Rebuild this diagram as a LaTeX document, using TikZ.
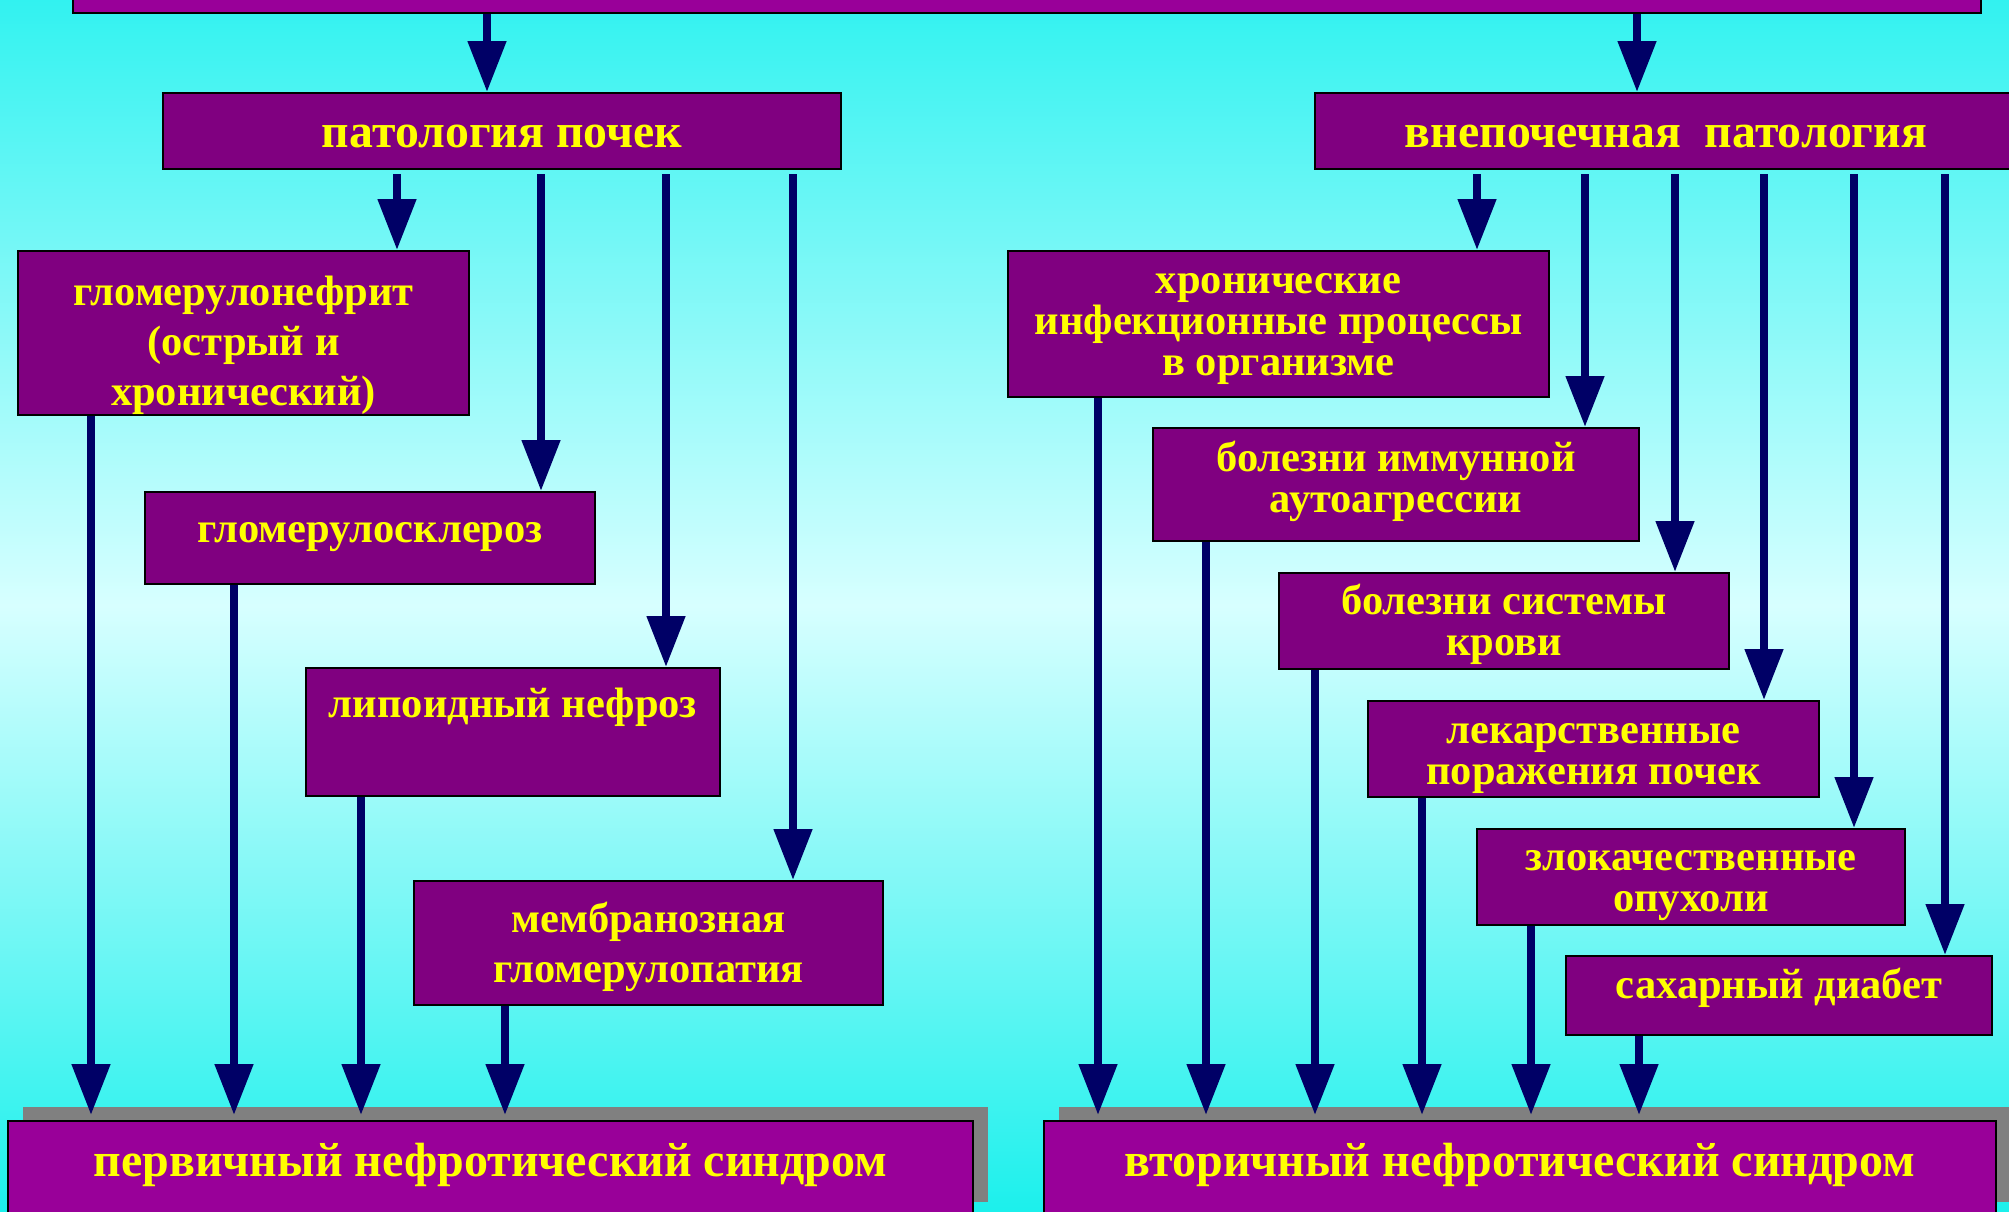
\documentclass[tikz,border=0pt]{standalone}
\usepackage{fontspec}
\setmainfont{Liberation Serif}
\usepackage{xcolor}
\usetikzlibrary{arrows.meta,shadows}
\definecolor{bgedge}{RGB}{50,242,240}
\definecolor{bgmid}{RGB}{215,255,255}
\definecolor{bgbot}{RGB}{28,240,236}
\definecolor{boxdark}{RGB}{128,0,128}
\definecolor{boxbright}{RGB}{153,0,153}
\definecolor{txt}{RGB}{255,255,0}
\definecolor{arrowblue}{RGB}{0,0,102}
\definecolor{shdw}{RGB}{128,128,128}
\tikzset{
  kbox/.style={draw=black,line width=2pt,fill=boxdark,text=txt,align=center,inner sep=0pt,
    font=\bfseries\fontsize{42.5}{41}\selectfont},
  wide/.style={font=\bfseries\fontsize{42.5}{50}\selectfont},
  head/.style={kbox,font=\bfseries\fontsize{47.8}{48}\selectfont,text height=34pt,text depth=2pt},
  sbox/.style={kbox,fill=boxbright,font=\bfseries\fontsize{48}{50}\selectfont,
    text height=37pt,text depth=22pt,
    drop shadow={shadow xshift=15pt,shadow yshift=14pt,fill=shdw,opacity=1}},
  arr/.style={draw=arrowblue,line width=8pt,-{Triangle[length=51pt,width=37pt]}}
}
\begin{document}
\begin{tikzpicture}[x=1pt,y=-1pt]
  \useasboundingbox (0,0) rectangle (2009,1211);
  \clip (0,0) rectangle (2009,1211);
  \shade[top color=bgedge,bottom color=bgbot,middle color=bgmid] (0,0) rectangle (2009,1211);

  \node[kbox,fill=boxbright,minimum width=1908pt,minimum height=53pt] (src) at (1027,-13.5) {};

  \node[head,minimum width=678pt,minimum height=76pt] (kid) at (502,131) {патология почек};
  \node[head,minimum width=702pt,minimum height=76pt] (ext) at (1666,131) {внепочечная\ \ патология};

  \node[kbox,wide,text height=154pt,text depth=10pt,minimum width=451pt,minimum height=162pt] (glom) at (243.5,333) {гломерулонефрит\\(острый и\\хронический)};
  \node[kbox,text height=32pt,text depth=24pt,minimum width=450pt,minimum height=92pt] (gscl) at (370,538) {гломерулосклероз};
  \node[kbox,text height=24pt,text depth=54pt,minimum width=414pt,minimum height=128pt] (lipo) at (513,732) {липоидный нефроз};
  \node[kbox,wide,text height=88pt,text depth=10pt,minimum width=469pt,minimum height=124pt] (memb) at (648.5,943) {мембранозная\\гломерулопатия};

  \node[kbox,text height=120pt,text depth=18pt,minimum width=541pt,minimum height=146pt] (infe) at (1278.5,324) {хронические\\инфекционные процессы\\в организме};
  \node[kbox,text height=79pt,text depth=23pt,minimum width=486pt,minimum height=113pt] (immu) at (1396,484.5) {болезни иммунной\\аутоагрессии};
  \node[kbox,text height=79pt,text depth=10pt,minimum width=450pt,minimum height=96pt] (bloo) at (1504,621) {болезни системы\\крови};
  \node[kbox,text height=81pt,text depth=10pt,minimum width=451pt,minimum height=96pt] (drug) at (1593.5,749) {лекарственные\\поражения почек};
  \node[kbox,text height=79pt,text depth=10pt,minimum width=428pt,minimum height=96pt] (tumo) at (1691,877) {злокачественные\\опухоли};
  \node[kbox,text height=30pt,text depth=25pt,minimum width=426pt,minimum height=79pt] (diab) at (1779,995.5) {сахарный диабет};

  \node[sbox,minimum width=965pt,minimum height=95pt] (prim) at (490.5,1168.5) {первичный нефротический синдром};
  \node[sbox,minimum width=952pt,minimum height=95pt] (seco) at (1520,1168.5) {вторичный нефротический синдром};

  \draw[arr] (src.south -| 487,0) -- (kid.north -| 487,0);
  \draw[arr] (src.south -| 1637,0) -- (ext.north -| 1637,0);
  \foreach \x/\a/\b in {397/kid/glom,541/kid/gscl,666/kid/lipo,793/kid/memb,
      1477/ext/infe,1585/ext/immu,1675/ext/bloo,1764/ext/drug,1854/ext/tumo,1945/ext/diab}
    \draw[arr,shorten <=4pt] (\a.south -| \x,0) -- (\b.north -| \x,0);
  \foreach \x/\a/\b in {91/glom/prim,234/gscl/prim,361/lipo/prim,505/memb/prim,
      1098/infe/seco,1206/immu/seco,1315/bloo/seco,1422/drug/seco,1531/tumo/seco,1639/diab/seco}
    \draw[arr,shorten >=5pt] (\a.south -| \x,0) -- (\b.north -| \x,0);
\end{tikzpicture}
\end{document}
